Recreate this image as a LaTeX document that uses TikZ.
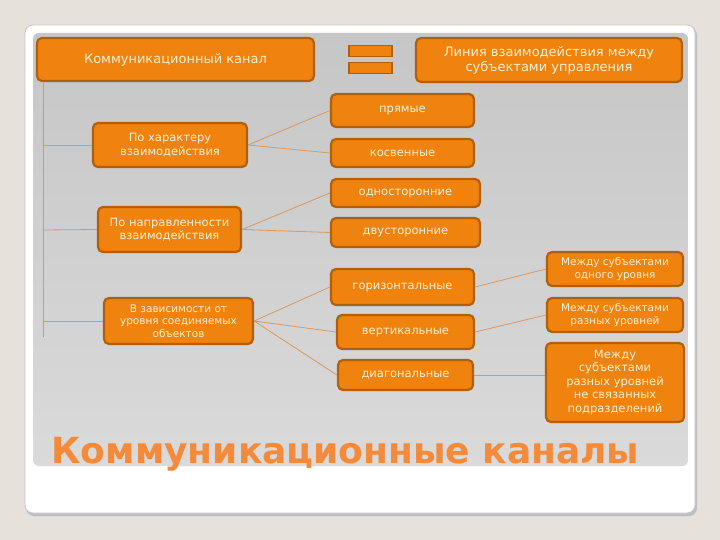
\documentclass[tikz,border=0pt]{standalone}
\usepackage{fontspec}
\setmainfont{DejaVu Sans}
\definecolor{bgc}{HTML}{E6E1DA}
\definecolor{panelA}{HTML}{C6C6C6}
\definecolor{panelB}{HTML}{DADADA}
\definecolor{boxfill}{HTML}{F0820E}
\definecolor{boxedge}{HTML}{B0600C}
\definecolor{boxtext}{HTML}{FFF3D8}
\definecolor{linkc}{HTML}{D9985E}
\definecolor{titlec}{HTML}{F58A3A}
\begin{document}
\begin{tikzpicture}[x=1pt,y=-1pt,
  box/.style={draw=boxedge, fill=boxfill, line width=2.2pt, rounded corners=5pt,
    text=boxtext, inner sep=1pt, align=center, font=\fontsize{11.5}{13.5}\selectfont},
  bigbox/.style={box, font=\fontsize{13}{15}\selectfont},
  smallbox/.style={box, font=\fontsize{10.5}{12.5}\selectfont},
  eqbar/.style={draw=boxedge, fill=boxfill, line width=1.6pt, minimum width=43, minimum height=11, inner sep=0pt},
  link/.style={draw=linkc, line width=0.8pt}]
% background, card and panel
\fill[bgc] (0,0) rectangle (720,540);
\useasboundingbox (0,0) rectangle (720,540);
\fill[black!25, rounded corners=8pt] (26,27) rectangle (697,516);
\filldraw[fill=white, draw=black!22, line width=0.8pt, rounded corners=8pt] (25,25) rectangle (695,513);
\shade[top color=panelA, bottom color=panelB, rounded corners=6pt] (33,33) rectangle (688,466);

% boxes
\node[bigbox, minimum width=277, minimum height=43] (b1) at (175.5,59.5) {Коммуникационный канал};
\node[eqbar] (eq1) at (370.5,51) {};
\node[eqbar] (eq2) at (370.5,68) {};
\node[bigbox, minimum width=266, minimum height=44] (b3) at (549,60) {Линия взаимодействия между\\субъектами управления};

\node[box, minimum width=154, minimum height=44] (char) at (170,145) {По характеру\\взаимодействия};
\node[box, minimum width=143, minimum height=33] (pr) at (402.5,110.5) {прямые};
\node[box, minimum width=143, minimum height=28] (kos) at (402.5,153) {косвенные};

\node[box, minimum width=143, minimum height=45] (napr) at (169.5,229.5) {По направленности\\взаимодействия};
\node[box, minimum width=149, minimum height=28] (odn) at (405.5,193) {односторонние};
\node[box, minimum width=149, minimum height=29] (dvu) at (405.5,232.5) {двусторонние};

\node[smallbox, minimum width=149, minimum height=46] (zav) at (178.5,321) {В зависимости от\\уровня соединяемых\\объектов};
\node[box, minimum width=143, minimum height=36] (gor) at (402.5,287) {горизонтальные};
\node[box, minimum width=137, minimum height=34] (ver) at (405.5,332) {вертикальные};
\node[box, minimum width=135, minimum height=30] (diag) at (405.5,375) {диагональные};

\node[smallbox, minimum width=136, minimum height=34] (m1) at (615,269) {Между субъектами\\одного уровня};
\node[smallbox, minimum width=136, minimum height=34] (m2) at (615,315) {Между субъектами\\разных уровней};
\node[box, minimum width=138, minimum height=79] (m3) at (615,382.5) {Между\\субъектами\\разных уровней\\не связанных\\подразделений};

% connectors
\coordinate (vtop) at (43,83);
\coordinate (vbot) at (43,337);
\coordinate (h1) at (43,145);
\coordinate (h2) at (43,230);
\coordinate (h3) at (43,321);
\draw[link] (vtop) -- (vbot);
\draw[link] (h1) -- (char.west);
\draw[link] (h2) -- (napr.west);
\draw[link] (h3) -- (zav.west);
\draw[link] (char.east) -- (pr.west);
\draw[link] (char.east) -- (kos.west);
\draw[link] (napr.east) -- (odn.west);
\draw[link] (napr.east) -- (dvu.west);
\draw[link] (zav.east) -- (gor.west);
\draw[link] (zav.east) -- (ver.west);
\draw[link] (zav.east) -- (diag.west);
\draw[link] (gor.east) -- (m1.west);
\draw[link] (ver.east) -- (m2.west);
\draw[link] (diag.east) -- (diag.east -| m3.west);

% title
\node[anchor=base west, text=titlec, font=\fontsize{36}{40}\bfseries] (title) at (48,463) {Коммуникационные каналы};
\end{tikzpicture}
\end{document}
